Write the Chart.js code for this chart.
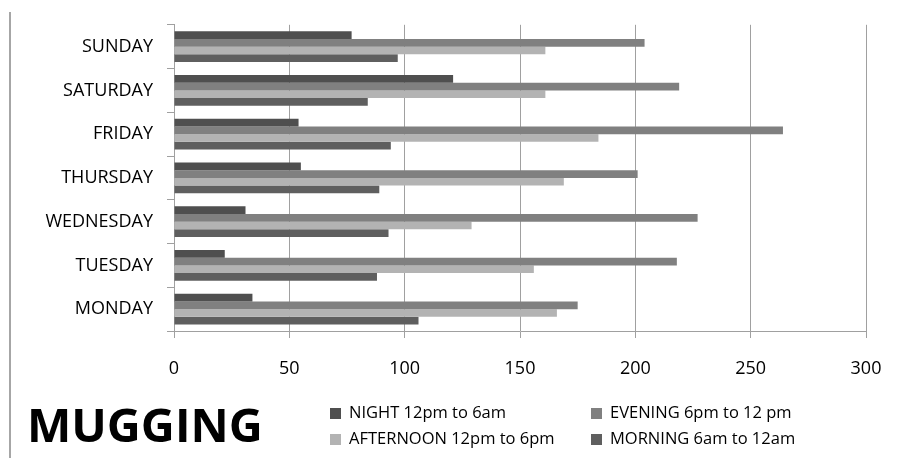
<!DOCTYPE html>
<html>
<head>
<meta charset="utf-8">
<script src="https://cdn.jsdelivr.net/npm/chart.js@4"></script>
<style>
  body { margin: 0; background: #fff; font-family: "Open Sans", sans-serif; }
  #wrap { position: relative; width: 900px; height: 458px; }
  #chart { position: absolute; left: 0; top: 0; }
  #leftLine { position: absolute; left: 9px; top: 12px; width: 2px; height: 446px; background: #a6a6a6; }
  #title { position: absolute; left: 27px; top: 401px; font-size: 47px; line-height: 47px; font-weight: bold; color: #000; }
  .legend-item { position: absolute; font-size: 16.5px; line-height: 16px; color: #000; white-space: nowrap; }
  .legend-item span.box { position: absolute; left: 0; top: 4px; width: 11px; height: 11px; }
  .legend-item span.txt { position: absolute; left: 19px; top: 0; }
</style>
</head>
<body>
<div id="wrap">
  <canvas id="chart" width="900" height="458"></canvas>
  <div id="leftLine"></div>
  <div id="title">MUGGING</div>
  <div id="legend"></div>
</div>
<script>
const days = ["MONDAY", "TUESDAY", "WEDNESDAY", "THURSDAY", "FRIDAY", "SATURDAY", "SUNDAY"];

const night = [34, 22, 31, 55, 54, 121, 77];
const evening = [175, 218, 227, 201, 264, 219, 204];
const afternoon = [166, 156, 129, 169, 184, 161, 161];
const morning = [106, 88, 93, 89, 94, 84, 97];

const seriesNames = ["NIGHT 12pm to 6am", "EVENING 6pm to 12 pm", "AFTERNOON 12pm to 6pm", "MORNING 6am to 12am"];
const seriesColors = ["#4f4f4f", "#808080", "#b3b3b3", "#5f5f5f"];
const xTicks = [0, 50, 100, 150, 200, 250, 300];

const seriesData = [night, evening, afternoon, morning];

// legend drawn as html, two columns
const legendPos = [[330, 404], [591, 404], [330, 430], [591, 430]];
const legend = document.getElementById("legend");
seriesNames.forEach((name, i) => {
  const item = document.createElement("div");
  item.className = "legend-item";
  item.style.left = legendPos[i][0] + "px";
  item.style.top = legendPos[i][1] + "px";
  item.innerHTML = `<span class="box" style="background:${seriesColors[i]}"></span><span class="txt">${name}</span>`;
  legend.appendChild(item);
});

const ctx = document.getElementById("chart").getContext("2d");
new Chart(ctx, {
  type: "bar",
  data: {
    labels: days,
    datasets: seriesNames.map((name, i) => ({
      label: name,
      data: seriesData[i],
      backgroundColor: seriesColors[i],
      borderWidth: 0,
      categoryPercentage: 0.7,
      barPercentage: 1.0
    }))
  },
  options: {
    indexAxis: "y",
    responsive: false,
    animation: false,
    layout: { padding: { left: 0, right: 34, top: 23, bottom: 0 } },
    plugins: {
      legend: { display: false },
      tooltip: { enabled: false }
    },
    scales: {
      x: {
        min: 0,
        max: 300,
        afterFit: (s) => { s.height = 127; s.paddingRight = 0; },
        afterBuildTicks: (s) => { s.ticks = xTicks.map(v => ({ value: v })); },
        ticks: {
          color: "#000",
          padding: 20,
          font: { family: "Open Sans", size: 18 }
        },
        grid: { color: "#a0a0a0", lineWidth: 1, tickLength: 7 },
        border: { color: "#a0a0a0" }
      },
      y: {
        reverse: true,
        offset: true,
        afterFit: (s) => { s.width = 174; },
        ticks: {
          color: "#000",
          padding: 14,
          font: { family: "Open Sans", size: 18 }
        },
        grid: { drawOnChartArea: false, color: "#a0a0a0", tickLength: 7, offset: true },
        border: { color: "#a0a0a0" }
      }
    }
  }
});
</script>
</body>
</html>
